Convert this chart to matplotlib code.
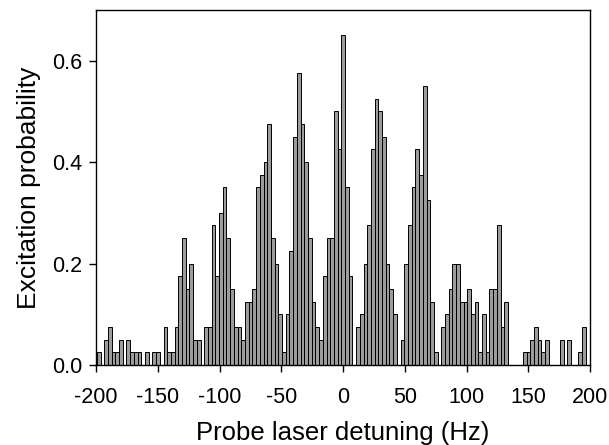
import numpy as np
import matplotlib
matplotlib.use("Agg")
import matplotlib.pyplot as plt

plt.rcParams['font.family'] = ['Liberation Sans', 'DejaVu Sans']

# Probe detuning (Hz), sampled every 3 Hz
detuning = np.arange(-198, 199, 3)

# Measured excitation probability at each detuning
probability = [
    0.025, 0.0, 0.05, 0.075, 0.025, 0.025, 0.05, 0.0, 0.05, 0.025,      # -198 .. -171
    0.025, 0.025, 0.0, 0.025, 0.0, 0.025, 0.025, 0.0, 0.075, 0.025,     # -168 .. -141
    0.025, 0.075, 0.175, 0.25, 0.15, 0.20, 0.05, 0.05, 0.0, 0.075,      # -138 .. -111
    0.075, 0.275, 0.175, 0.30, 0.35, 0.25, 0.15, 0.075, 0.075, 0.05,    # -108 .. -81
    0.125, 0.125, 0.15, 0.35, 0.375, 0.40, 0.475, 0.25, 0.20, 0.10,     # -78 .. -51
    0.025, 0.10, 0.225, 0.45, 0.575, 0.475, 0.40, 0.25, 0.125, 0.075,   # -48 .. -21
    0.05, 0.175, 0.25, 0.25, 0.50, 0.425, 0.65, 0.35, 0.175, 0.0,       # -18 .. 9
    0.075, 0.10, 0.20, 0.275, 0.425, 0.525, 0.50, 0.45, 0.20, 0.15,     # 12 .. 39
    0.10, 0.0, 0.05, 0.20, 0.275, 0.35, 0.425, 0.375, 0.55, 0.325,      # 42 .. 69
    0.125, 0.025, 0.0, 0.075, 0.10, 0.15, 0.20, 0.20, 0.125, 0.125,     # 72 .. 99
    0.15, 0.10, 0.125, 0.025, 0.10, 0.025, 0.15, 0.15, 0.275, 0.075,    # 102 .. 129
    0.125, 0.0, 0.0, 0.0, 0.0, 0.025, 0.025, 0.05, 0.075, 0.05,         # 132 .. 159
    0.025, 0.05, 0.0, 0.0, 0.0, 0.05, 0.0, 0.05, 0.0, 0.0,              # 162 .. 189
    0.025, 0.075, 0.0,                                                  # 192 .. 198
]

x_ticks = [-200, -150, -100, -50, 0, 50, 100, 150, 200]
y_ticks = [0.0, 0.2, 0.4, 0.6]

fig = plt.figure(figsize=(6.09, 4.45), dpi=100)
ax = fig.add_axes([0.158, 0.18, 0.811, 0.7975])

ax.bar(detuning, probability, width=3.0, color='#9c9c9c',
       edgecolor='black', linewidth=0.7, align='center')

ax.set_xlim(-200, 200)
ax.set_ylim(0, 0.7)
ax.set_xticks(x_ticks)
ax.set_xticklabels([str(t) for t in x_ticks])
ax.set_yticks(y_ticks)
ax.set_yticklabels([f"{t:.1f}" for t in y_ticks])
ax.tick_params(direction='out', length=5, width=1, labelsize=15.5)
ax.tick_params(axis='x', pad=11)
ax.tick_params(axis='y', pad=5)

for s in ax.spines.values():
    s.set_linewidth(1)

ax.set_xlabel('Probe laser detuning (Hz)', fontsize=18.5, labelpad=9)
ax.set_ylabel('Excitation probability', fontsize=19, labelpad=8)

fig.savefig('out.png', dpi=100)
